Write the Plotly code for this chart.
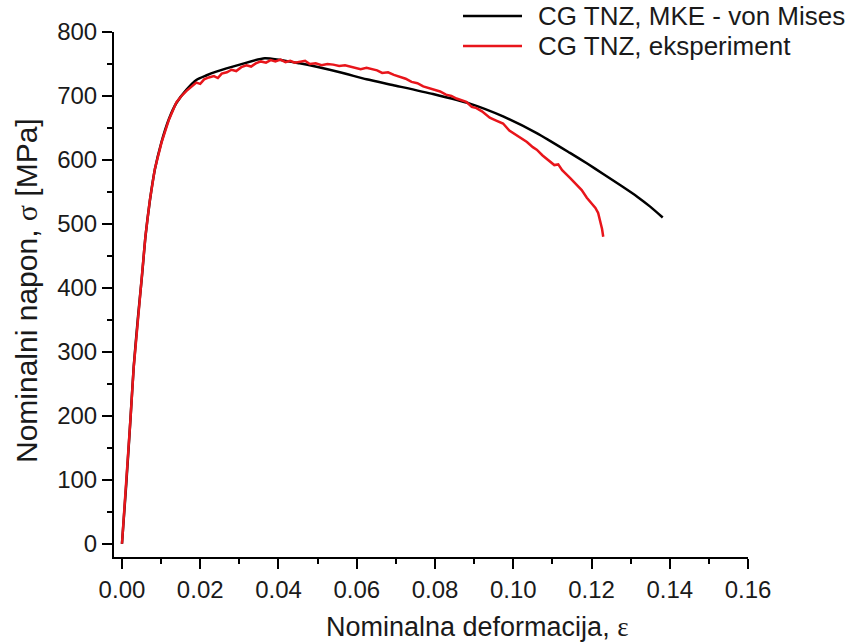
import plotly.graph_objects as go

# Nominal stress-strain curves: FEM (von Mises) vs. experiment
fem_strain = [0.0, 0.0011, 0.0022, 0.0030, 0.0041, 0.0051, 0.0060, 0.0071, 0.0084,
              0.0101, 0.0120, 0.0139, 0.0165, 0.0190, 0.0215, 0.0241, 0.0301, 0.0365,
              0.0454, 0.0557, 0.0625, 0.0700, 0.0795, 0.0889, 0.0974, 0.1060, 0.1145,
              0.1190, 0.1230, 0.1275, 0.1316, 0.1350, 0.1382]
fem_stress = [0, 94, 198, 277, 355, 418, 480, 535, 585,
              628, 664, 689, 710, 725, 732, 738, 749, 759,
              751, 737, 726, 716, 703, 688, 668, 642, 611,
              594, 578, 560, 543, 527, 510]

exp_strain = [0.0, 0.0011, 0.0022, 0.0030, 0.0041, 0.0051, 0.0060, 0.0071, 0.0084,
              0.0101, 0.0120, 0.0139, 0.0152, 0.0165, 0.0178, 0.0190, 0.0200, 0.0210,
              0.0222, 0.0235, 0.0245, 0.0255, 0.0268, 0.0280, 0.0292, 0.0305, 0.0318,
              0.0330, 0.0342, 0.0355, 0.0368, 0.0380, 0.0392, 0.0405, 0.0418, 0.0430,
              0.0442, 0.0454, 0.0468, 0.0480, 0.0495, 0.0510, 0.0525, 0.0540, 0.0555,
              0.0570, 0.0582, 0.0595, 0.0610, 0.0625, 0.0640, 0.0652, 0.0665, 0.0680,
              0.0695, 0.0710, 0.0725, 0.0740, 0.0755, 0.0770, 0.0785, 0.0800, 0.0813,
              0.0828, 0.0842, 0.0855, 0.0868, 0.0880, 0.0894, 0.0906, 0.0920, 0.0940,
              0.0955, 0.0974, 0.0990, 0.1005, 0.1017, 0.1035, 0.1050, 0.1060, 0.1075,
              0.1094, 0.1105, 0.1115, 0.1125, 0.1145, 0.1160, 0.1175, 0.1188, 0.1200,
              0.1210, 0.1217, 0.1222, 0.1227, 0.1230]
exp_stress = [0, 95, 198, 276, 356, 418, 481, 536, 586,
              627, 663, 690, 700, 708, 714, 721, 719, 726,
              729, 731, 728, 735, 737, 741, 739, 745, 748,
              746, 751, 754, 752, 756, 754, 757, 753, 755,
              752, 753, 755, 750, 751, 748, 750, 749, 747,
              748, 746, 745, 742, 744, 742, 740, 736, 737,
              733, 730, 727, 722, 720, 715, 712, 710, 707,
              702, 700, 696, 694, 691, 683, 681, 676, 666,
              662, 657, 646, 640, 634, 628, 620, 616, 607,
              598, 592, 593, 584, 572, 562, 553, 541, 533,
              525, 517, 505, 492, 480]

x_ticks = [0.00, 0.02, 0.04, 0.06, 0.08, 0.10, 0.12, 0.14, 0.16]
y_ticks = [0, 100, 200, 300, 400, 500, 600, 700, 800]

series_names = ["CG TNZ, MKE - von Mises", "CG TNZ, eksperiment"]
series_colors = ["#000000", "#e8151b"]

x_title = "Nominalna deformacija, <span style='font-family:Liberation Serif, serif'>ε</span>"
y_title = "Nominalni napon, <span style='font-family:Liberation Serif, serif'>σ</span> [MPa]"

W, H = 858, 644
M = dict(l=114, r=110, t=32, b=87)

FONT = "Liberation Sans, Arial, sans-serif"
TXT = "#1a1a1a"

fig = go.Figure()
fig.add_trace(go.Scatter(x=fem_strain, y=fem_stress, mode="lines",
                         line=dict(color=series_colors[0], width=2.5,
                                   shape="spline", smoothing=0.6),
                         name=series_names[0], showlegend=False))
fig.add_trace(go.Scatter(x=exp_strain, y=exp_stress, mode="lines",
                         line=dict(color=series_colors[1], width=2.5),
                         name=series_names[1], showlegend=False))

axis_common = dict(
    showline=True, linecolor="#000", linewidth=2,
    ticks="outside", ticklen=10, tickwidth=2, tickcolor="#000",
    showgrid=False, zeroline=False, mirror=False, automargin=False,
    tickfont=dict(family=FONT, size=24, color=TXT),
)

fig.update_xaxes(
    range=[-0.00204, 0.16], tickvals=x_ticks,
    ticktext=[f"{v:.2f}" for v in x_ticks],
    minor=dict(dtick=0.01, ticklen=5, tickwidth=2, tickcolor="#000", ticks="outside"),
    **axis_common,
)
fig.update_yaxes(
    range=[-20.7, 800], tickvals=y_ticks,
    minor=dict(dtick=50, ticklen=5, tickwidth=2, tickcolor="#000", ticks="outside"),
    **axis_common,
)

# Pixel positions converted to paper coordinates for titles and legend
pw = W - M["l"] - M["r"]
ph = H - M["t"] - M["b"]


def px(xp):
    return (xp - M["l"]) / pw


def py(yp):
    return (H - M["b"] - yp) / ph


fig.add_annotation(xref="paper", yref="paper", x=px(477), y=py(627),
                   xanchor="center", yanchor="middle", showarrow=False,
                   text=x_title, font=dict(family=FONT, size=27, color=TXT))
fig.add_annotation(xref="paper", yref="paper", x=px(26), y=py(291),
                   xanchor="center", yanchor="middle", showarrow=False,
                   textangle=-90,
                   text=y_title, font=dict(family=FONT, size=30, color=TXT))

legend_rows = [16, 46]
for name, color, yrow in zip(series_names, series_colors, legend_rows):
    fig.add_shape(type="line", xref="paper", yref="paper",
                  x0=px(463), x1=px(522), y0=py(yrow), y1=py(yrow),
                  line=dict(color=color, width=2.5))
    fig.add_annotation(xref="paper", yref="paper", x=px(536), y=py(yrow),
                       xanchor="left", yanchor="middle", showarrow=False,
                       text=name, font=dict(family=FONT, size=26, color=TXT))

fig.update_layout(
    width=W, height=H, margin=M,
    paper_bgcolor="white", plot_bgcolor="white",
    showlegend=False,
)

fig.write_html("out.html")
